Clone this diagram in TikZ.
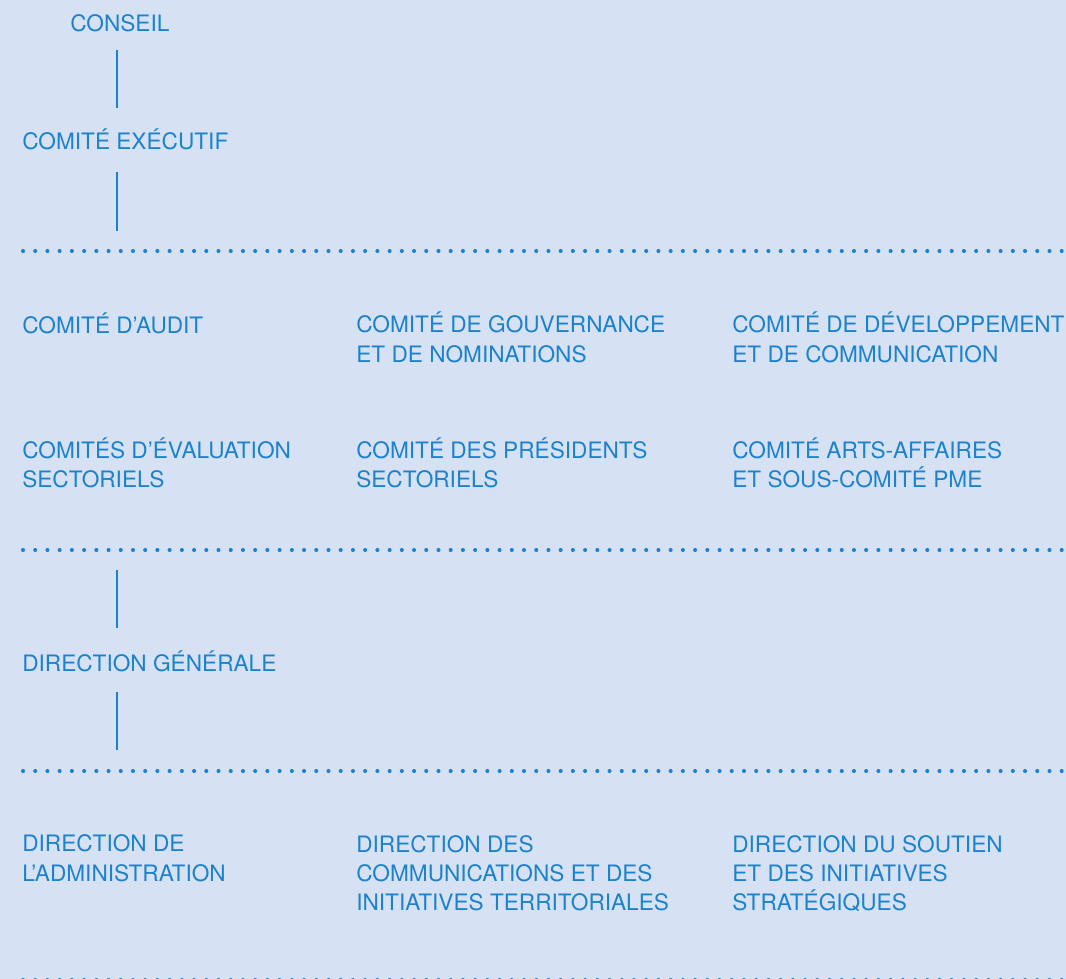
\documentclass[tikz,border=0pt]{standalone}
\usepackage{fontspec}
\setmainfont{TeX Gyre Heros}
\usetikzlibrary{positioning}
\definecolor{paper}{HTML}{D6E2F3}
\definecolor{ink}{HTML}{1C82CC}
\tikzset{unit/.style={anchor=base west, inner sep=0pt, text=ink, align=left, font=\fontsize{16.1}{20.8}\selectfont},
  link/.style={draw=ink, line width=1.4pt},
  dotline/.style={draw=ink, line width=2.9pt, line cap=round, dash pattern=on 0pt off 8.69pt}}

\begin{document}
\begin{tikzpicture}[x=0.025cm,y=-0.025cm]
	\fill[paper] (0,0) rectangle (1066,979);
	\useasboundingbox (0,0) rectangle (1066,979);
	% gouvernance
	\node[unit] (conseil) at (70,32) {CONSEIL};
	\node[unit] (comex) at (22,149) {COMITÉ EXÉCUTIF};
	\coordinate (c1) at (117,50);
	\coordinate (c2) at (117,108);
	\coordinate (c3) at (117,172);
	\coordinate (c4) at (117,231);
	\draw[link] (c1) -- (c2);
	\draw[link] (c3) -- (c4);
	% comites (base = derniere ligne)
	\node[unit] (audit) at (22,333) {COMITÉ D’AUDIT};
	\node[unit] (gouv) at (356,362) {COMITÉ DE GOUVERNANCE\\ET DE NOMINATIONS};
	\node[unit] (devel) at (732,362) {COMITÉ DE DÉVELOPPEMENT\\ET DE COMMUNICATION};
	\node[unit] (evalu) at (22,487.5) {COMITÉS D’ÉVALUATION\\SECTORIELS};
	\node[unit] (pres) at (356,487.5) {COMITÉ DES PRÉSIDENTS\\SECTORIELS};
	\node[unit] (arts) at (732,487.5) {COMITÉ ARTS-AFFAIRES\\ET SOUS-COMITÉ PME};
	% direction
	\coordinate (d1) at (117,570);
	\coordinate (d2) at (117,628);
	\coordinate (d3) at (117,692);
	\coordinate (d4) at (117,750);
	\draw[link] (d1) -- (d2);
	\draw[link] (d3) -- (d4);
	\node[unit] (dg) at (22,671) {DIRECTION GÉNÉRALE};
	\node[unit] (admin) at (22,881) {DIRECTION DE\\L’ADMINISTRATION};
	\node[unit] (comm) at (356,910.5) {DIRECTION DES\\COMMUNICATIONS ET DES\\INITIATIVES TERRITORIALES};
	\node[unit] (soutien) at (732,910.5) {DIRECTION DU SOUTIEN\\ET DES INITIATIVES\\STRATÉGIQUES};
	% separateurs
	\foreach \y in {251,550,771,980}
		\draw[dotline] (23,\y) -- (1070,\y);
\end{tikzpicture}
\end{document}
